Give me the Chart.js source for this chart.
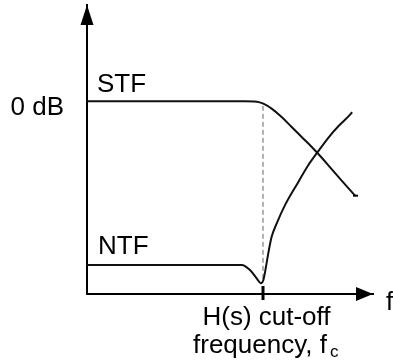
<!DOCTYPE html>
<html>
<head>
<meta charset="utf-8">
<script src="https://cdn.jsdelivr.net/npm/chart.js@4"></script>
<style>
  html, body { margin: 0; padding: 0; background: #fff; }
  canvas { display: block; }
</style>
</head>
<body>
<canvas id="tfChart" width="393" height="362"></canvas>
<script>
// Normalised frequency f/fc and gain in dB
const stfFreq = [0, 0.898, 0.964, 1.002, 1.049, 1.106, 1.163, 1.220, 1.277, 1.334, 1.390, 1.447, 1.523];
const stfGain = [0, 0, -0.1, -0.72, -2.27, -4.88, -7.99, -11.1, -14.21, -17.56, -21.14, -24.72, -29.38];

const ntfFreq = [0, 0.879, 0.926, 0.964, 0.987, 1.002, 1.017, 1.030, 1.049, 1.078, 1.125, 1.201, 1.257, 1.311, 1.371, 1.428, 1.466, 1.507];
const ntfGain = [-50.98, -50.98, -52.54, -55.12, -56.67, -55.65, -51.51, -47.35, -42.19, -38.02, -32.33, -25.09, -19.9, -15.76, -11.35, -7.77, -5.75, -3.42];

const cutoffFreq = 1.0;
const cutoffGain = [-1.4, -56.3];   // dashed marker from STF knee down to NTF dip

const xRange = [0, 1.625];
const yRange = [-60, 30];

const toPoints = (xs, ys) => xs.map((x, i) => ({ x: x, y: ys[i] }));

const FONT = '"Liberation Sans", Arial, sans-serif';

// Draws arrowheads, fc tick and the text labels in chart coordinates
const sketchLabels = {
    id: 'sketchLabels',
    afterDraw(chart) {
        const ctx = chart.ctx;
        const xs = chart.scales.x, ys = chart.scales.y;
        const area = chart.chartArea;
        ctx.save();
        ctx.fillStyle = '#000';
        ctx.strokeStyle = '#000';

        // arrowheads
        ctx.beginPath();
        ctx.moveTo(area.left, area.top);
        ctx.lineTo(area.left - 6.5, area.top + 20);
        ctx.lineTo(area.left + 6.5, area.top + 20);
        ctx.closePath();
        ctx.fill();
        ctx.beginPath();
        ctx.moveTo(area.right, area.bottom);
        ctx.lineTo(area.right - 17, area.bottom - 7);
        ctx.lineTo(area.right - 17, area.bottom + 7);
        ctx.closePath();
        ctx.fill();

        // small end tick on the STF curve
        const endX = xs.getPixelForValue(stfFreq[stfFreq.length - 1]);
        const endY = ys.getPixelForValue(stfGain[stfGain.length - 1]);
        ctx.lineWidth = 2;
        ctx.beginPath();
        ctx.moveTo(endX - 2, endY);
        ctx.lineTo(endX + 3, endY);
        ctx.stroke();

        // fc tick on x axis
        const fcX = xs.getPixelForValue(cutoffFreq);
        ctx.lineWidth = 3;
        ctx.beginPath();
        ctx.moveTo(fcX, area.bottom - 8);
        ctx.lineTo(fcX, area.bottom + 6);
        ctx.stroke();

        ctx.font = '26px ' + FONT;
        ctx.textBaseline = 'alphabetic';

        ctx.textAlign = 'left';
        ctx.fillText('STF', area.left + 10, ys.getPixelForValue(stfGain[0]) - 9);
        ctx.fillText('NTF', area.left + 11, ys.getPixelForValue(ntfGain[0]) - 11);
        ctx.fillText('f', area.right + 13, area.bottom + 16);

        ctx.textAlign = 'right';
        ctx.fillText('0 dB', area.left - 23, ys.getPixelForValue(0) + 14);

        ctx.textAlign = 'center';
        ctx.fillText('H(s) cut-off', fcX + 3.5, area.bottom + 31);

        ctx.textAlign = 'left';
        const line2 = 'frequency, f';
        const startX = fcX - 70;
        ctx.fillText(line2, startX, area.bottom + 59);
        const w2 = ctx.measureText(line2).width;
        ctx.font = '17px ' + FONT;
        ctx.fillText('c', startX + w2 + 3, area.bottom + 63);

        ctx.restore();
    }
};

new Chart(document.getElementById('tfChart').getContext('2d'), {
    type: 'line',
    data: {
        datasets: [{
            label: 'STF',
            data: toPoints(stfFreq, stfGain),
            borderColor: '#111',
            borderWidth: 2,
            pointRadius: 0,
            cubicInterpolationMode: 'monotone',
            fill: false
        }, {
            label: 'NTF',
            data: toPoints(ntfFreq, ntfGain),
            borderColor: '#111',
            borderWidth: 2,
            pointRadius: 0,
            cubicInterpolationMode: 'monotone',
            fill: false
        }, {
            label: 'fc',
            data: cutoffGain.map(g => ({ x: cutoffFreq, y: g })),
            borderColor: '#666',
            borderWidth: 1,
            borderDash: [5, 3],
            pointRadius: 0,
            fill: false
        }]
    },
    plugins: [sketchLabels],
    options: {
        responsive: false,
        animation: false,
        layout: { padding: { left: 87, right: 20, top: 5, bottom: 68 } },
        plugins: { legend: { display: false }, tooltip: { enabled: false } },
        scales: {
            x: {
                type: 'linear',
                min: xRange[0], max: xRange[1],
                grid: { display: false, drawTicks: false },
                ticks: { display: false },
                border: { display: true, color: '#000', width: 2 }
            },
            y: {
                type: 'linear',
                min: yRange[0], max: yRange[1],
                grid: { display: false, drawTicks: false },
                ticks: { display: false },
                border: { display: true, color: '#000', width: 2 }
            }
        }
    }
});
</script>
</body>
</html>
